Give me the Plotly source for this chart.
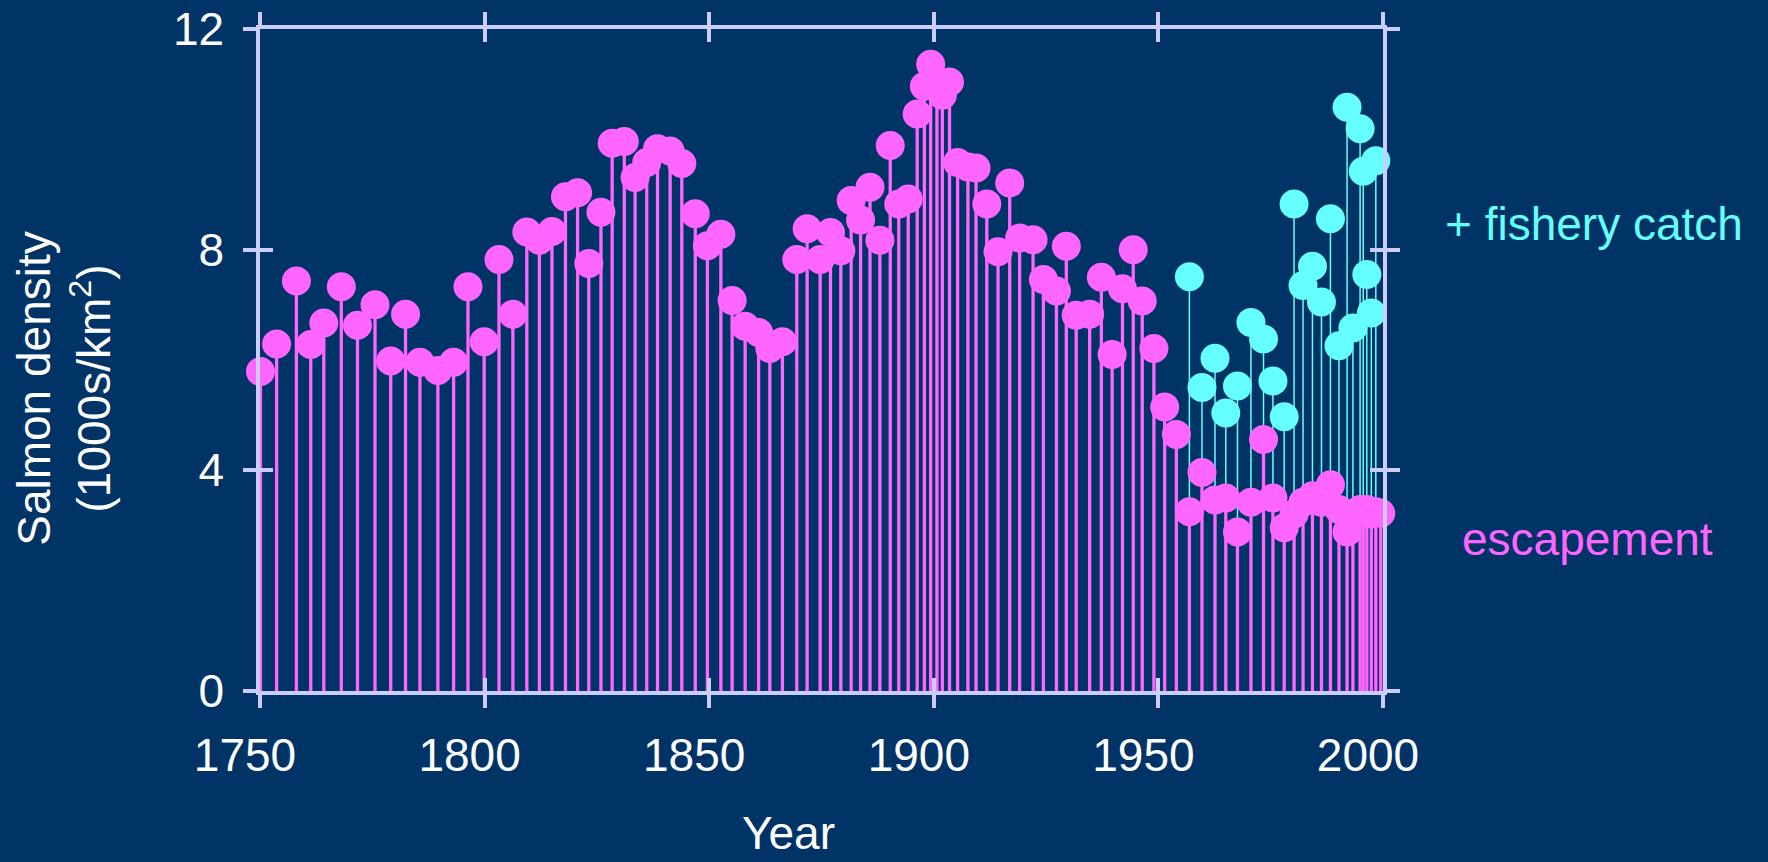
import plotly.graph_objects as go

# ---- data ----
esc_years = [1750.1, 1753.7, 1758.1, 1761.3, 1764.2, 1768.1, 1771.7, 1775.6, 1779.1, 1782.4,
             1785.6, 1789.6, 1793.1, 1796.3, 1799.9, 1803.2, 1806.3, 1809.4, 1812.2, 1815.0,
             1818.0, 1820.7, 1823.2, 1825.9, 1828.4, 1831.1, 1833.5, 1836.1, 1838.5, 1841.3,
             1843.9, 1846.9, 1849.6, 1852.6, 1855.1, 1858.0, 1861.0, 1863.5, 1866.3, 1869.5,
             1871.8, 1874.7, 1877.0, 1879.3, 1881.6, 1883.7, 1885.8, 1888.0, 1890.3, 1892.2,
             1894.3, 1896.3, 1897.9, 1899.3, 1900.7, 1901.9, 1903.5, 1905.3, 1907.6, 1909.4,
             1911.8, 1914.3, 1916.9, 1919.1, 1922.1, 1924.4, 1927.3, 1929.5, 1931.7, 1934.7,
             1937.3, 1939.7, 1942.0, 1944.4, 1946.4, 1949.0, 1951.4, 1954.0,
             1956.9, 1959.7, 1962.6, 1965.0, 1967.6, 1970.6, 1973.4, 1975.5, 1978.0, 1980.2,
             1982.2, 1984.3, 1986.3, 1988.3, 1990.2, 1992.0, 1993.3, 1994.9, 1995.6, 1996.4,
             1997.4, 1998.4, 1999.5]
escapement = [5.79, 6.29, 7.43, 6.28, 6.67, 7.33, 6.63, 7.00, 5.98, 6.83,
              5.96, 5.81, 5.96, 7.33, 6.33, 7.82, 6.83, 8.32, 8.17, 8.33,
              8.96, 9.03, 7.75, 8.68, 9.93, 9.96, 9.31, 9.58, 9.83, 9.79,
              9.56, 8.65, 8.07, 8.28, 7.08, 6.61, 6.50, 6.21, 6.33, 7.82,
              8.38, 7.82, 8.31, 7.98, 8.89, 8.54, 9.13, 8.17, 9.89, 8.83,
              8.92, 10.46, 10.96, 11.36, 11.00, 10.80, 11.04, 9.58, 9.50, 9.48,
              8.83, 7.96, 9.21, 8.21, 8.18, 7.46, 7.25, 8.06, 6.81, 6.83,
              7.50, 6.10, 7.29, 8.00, 7.07, 6.21, 5.15, 4.65,
              3.25, 3.96, 3.46, 3.50, 2.88, 3.42, 4.56, 3.50, 2.96, 3.21,
              3.42, 3.54, 3.42, 3.74, 3.29, 2.88, 3.21, 3.29, 3.25, 3.29,
              3.21, 3.25, 3.22]

catch_years = [1956.9, 1959.7, 1962.6, 1965.0, 1967.6, 1970.6, 1973.4, 1975.5, 1978.0, 1980.2,
               1982.2, 1984.3, 1986.3, 1988.3, 1990.2, 1992.0, 1993.3, 1994.9, 1995.6, 1996.4,
               1997.4, 1998.4]
catch_total = [7.51, 5.50, 6.03, 5.04, 5.53, 6.68, 6.38, 5.62, 4.97, 8.83,
               7.35, 7.70, 7.05, 8.56, 6.26, 10.58, 6.58, 10.19, 9.42, 7.55,
               6.85, 9.61]

x_ticks = [1750, 1800, 1850, 1900, 1950, 2000]
y_ticks = [0, 4, 8, 12]

# ---- styling ----
BG = "#003366"
PINK = "#ff66ff"
CYAN = "#66ffff"
AXIS = "#ccccff"
FONT = "Arial, Liberation Sans, sans-serif"
FS = 46


def stems(xs, ys):
    sx, sy = [], []
    for x, y in zip(xs, ys):
        sx += [x, x, None]
        sy += [0, y, None]
    return sx, sy


fig = go.Figure()

cx, cy = stems(catch_years, catch_total)
fig.add_trace(go.Scatter(x=cx, y=cy, mode="lines", line=dict(color=CYAN, width=1.5),
                         hoverinfo="skip", showlegend=False, cliponaxis=False))
ex, ey = stems(esc_years, escapement)
fig.add_trace(go.Scatter(x=ex, y=ey, mode="lines", line=dict(color=PINK, width=3.3),
                         hoverinfo="skip", showlegend=False, cliponaxis=False))
fig.add_trace(go.Scatter(x=catch_years, y=catch_total, mode="markers",
                         marker=dict(color=CYAN, size=29, line=dict(width=0)),
                         name="+ fishery catch", showlegend=False, cliponaxis=False))
fig.add_trace(go.Scatter(x=esc_years, y=escapement, mode="markers",
                         marker=dict(color=PINK, size=29, line=dict(width=0)),
                         name="escapement", showlegend=False, cliponaxis=False))
# dummy trace to activate the overlay axes used for inward ticks
fig.add_trace(go.Scatter(x=[None], y=[None], xaxis="x2", yaxis="y2", showlegend=False,
                         hoverinfo="skip"))

common_x = dict(range=[1750, 2000], tickmode="array", tickvals=x_ticks,
                showgrid=False, zeroline=False, ticklen=13, tickwidth=3.5, tickcolor=AXIS)
common_y = dict(range=[0, 12], tickmode="array", tickvals=y_ticks,
                showgrid=False, zeroline=False, ticklen=13, tickwidth=3.5, tickcolor=AXIS)

fig.update_layout(
    width=1768, height=862,
    margin=dict(l=260, r=385, t=29, b=171, autoexpand=False),
    paper_bgcolor=BG, plot_bgcolor=BG,
    font=dict(family=FONT, color="white", size=FS),
    xaxis=dict(**common_x, ticks="outside", mirror="ticks", showline=True,
               linecolor=AXIS, linewidth=3.5, ticklabelshift=-15, ticklabelstandoff=8,
               tickfont=dict(size=FS, color="white", family=FONT)),
    yaxis=dict(**common_y, ticks="outside", mirror="ticks", showline=True,
               linecolor=AXIS, linewidth=3.5, ticklabelstandoff=10,
               tickfont=dict(size=FS, color="white", family=FONT)),
    xaxis2=dict(**common_x, ticks="inside", mirror="ticks", showline=False,
                showticklabels=False, overlaying="x", side="bottom"),
    yaxis2=dict(**common_y, ticks="inside", mirror="ticks", showline=False,
                showticklabels=False, overlaying="y", side="left"),
    annotations=[
        dict(text="Salmon density<br>(1000s/km<sup>2</sup>)", xref="paper", yref="paper",
             x=-0.1745, y=0.4566, xanchor="center", yanchor="middle", textangle=-90,
             showarrow=False, font=dict(size=FS, color="white", family=FONT)),
        dict(text="Year", xref="paper", yref="paper", x=0.471, y=-0.215,
             xanchor="center", yanchor="middle", showarrow=False,
             font=dict(size=FS, color="white", family=FONT)),
        dict(text="+ fishery catch", xref="paper", yref="paper", x=1.188, y=0.705,
             xanchor="center", yanchor="middle", showarrow=False,
             font=dict(size=FS, color=CYAN, family=FONT)),
        dict(text="escapement", xref="paper", yref="paper", x=1.182, y=0.230,
             xanchor="center", yanchor="middle", showarrow=False,
             font=dict(size=FS, color=PINK, family=FONT)),
    ],
)

fig.write_html("out.html", config={"displayModeBar": False},
               post_script="document.body.style.margin='0';document.body.style.overflow='hidden';")
